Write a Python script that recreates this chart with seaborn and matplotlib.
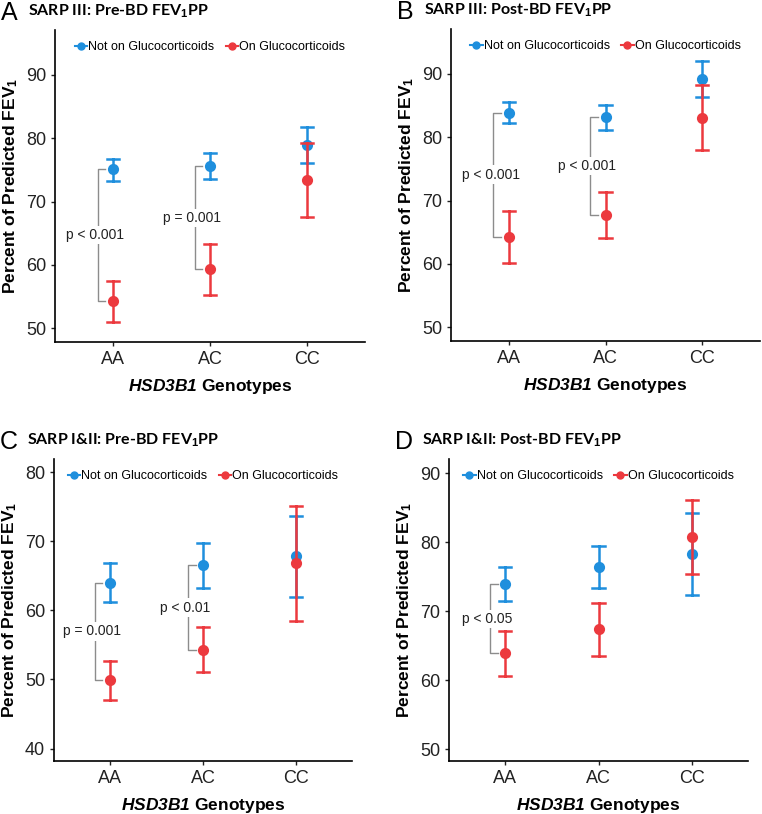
import pandas as pd
import numpy as np
import matplotlib
matplotlib.use('Agg')
import matplotlib.pyplot as plt
from matplotlib.lines import Line2D
import seaborn as sns

# genotype categories and groups
genotypes = ['AA', 'AC', 'CC']
groups = ['Not on Glucocorticoids', 'On Glucocorticoids']

# panel A: SARP III pre-BD
a_not_mid = [75.1, 75.6, 79.0]
a_not_lo = [73.3, 73.5, 76.1]
a_not_hi = [76.7, 77.6, 81.8]
a_on_mid = [54.3, 59.3, 73.4]
a_on_lo = [51.0, 55.3, 67.5]
a_on_hi = [57.4, 63.3, 79.3]

# panel B: SARP III post-BD
b_not_mid = [83.9, 83.2, 89.2]
b_not_lo = [82.2, 81.2, 86.3]
b_not_hi = [85.6, 85.1, 92.1]
b_on_mid = [64.3, 67.7, 83.1]
b_on_lo = [60.2, 64.1, 78.0]
b_on_hi = [68.3, 71.4, 88.2]

# panel C: SARP I&II pre-BD
c_not_mid = [64.0, 66.5, 67.8]
c_not_lo = [61.2, 63.3, 62.0]
c_not_hi = [66.8, 69.7, 73.6]
c_on_mid = [49.9, 54.3, 66.8]
c_on_lo = [47.0, 51.1, 58.4]
c_on_hi = [52.7, 57.6, 75.1]

# panel D: SARP I&II post-BD
d_not_mid = [74.0, 76.4, 78.3]
d_not_lo = [71.5, 73.4, 72.4]
d_not_hi = [76.5, 79.5, 84.2]
d_on_mid = [63.9, 67.5, 80.8]
d_on_lo = [60.6, 63.6, 75.4]
d_on_hi = [67.1, 71.2, 86.2]

# p-value brackets: (genotype index, label)
a_pvals = [(0, 'p < 0.001'), (1, 'p = 0.001')]
b_pvals = [(0, 'p < 0.001'), (1, 'p < 0.001')]
c_pvals = [(0, 'p = 0.001'), (1, 'p < 0.01')]
d_pvals = [(0, 'p < 0.05')]

blue = '#1f8fdd'
red = '#ec393e'

# mathtext: rm -> bold italic (gene name), bf -> bold (subscripts)
plt.rcParams['mathtext.fontset'] = 'custom'
plt.rcParams['mathtext.rm'] = 'Liberation Sans:italic:bold'
plt.rcParams['mathtext.it'] = 'Liberation Sans:italic:bold'
plt.rcParams['mathtext.bf'] = 'Liberation Sans:bold'
plt.rcParams['font.family'] = 'Liberation Sans'


def make_long(not_lo, not_mid, not_hi, on_lo, on_mid, on_hi):
    # three rows per point: median = centre, min/max = error bar ends
    rows = []
    for g, lo, mid, hi in [(groups[0], not_lo, not_mid, not_hi),
                           (groups[1], on_lo, on_mid, on_hi)]:
        for i, gt in enumerate(genotypes):
            for v in (lo[i], mid[i], hi[i]):
                rows.append({'Genotype': gt, 'Group': g, 'FEV1': v})
    return pd.DataFrame(rows)


panels = [
    ('A', 'SARP III: Pre-BD FEV$_\\mathbf{1}$PP', make_long(a_not_lo, a_not_mid, a_not_hi, a_on_lo, a_on_mid, a_on_hi),
     a_pvals, (a_not_mid, a_on_mid), [55, 342, 365, 30], (47.8, 97.1), [50, 60, 70, 80, 90]),
    ('B', 'SARP III: Post-BD FEV$_\\mathbf{1}$PP', make_long(b_not_lo, b_not_mid, b_not_hi, b_on_lo, b_on_mid, b_on_hi),
     b_pvals, (b_not_mid, b_on_mid), [451, 341, 760, 29], (47.8, 97.1), [50, 60, 70, 80, 90]),
    ('C', 'SARP I&II: Pre-BD FEV$_\\mathbf{1}$PP', make_long(c_not_lo, c_not_mid, c_not_hi, c_on_lo, c_on_mid, c_on_hi),
     c_pvals, (c_not_mid, c_on_mid), [54, 761, 352, 459], (38.2, 81.9), [40, 50, 60, 70, 80]),
    ('D', 'SARP I&II: Post-BD FEV$_\\mathbf{1}$PP', make_long(d_not_lo, d_not_mid, d_not_hi, d_on_lo, d_on_mid, d_on_hi),
     d_pvals, (d_not_mid, d_on_mid), [449, 761, 748, 459], (48.3, 92.1), [50, 60, 70, 80, 90]),
]

W, H = 762, 814
fig = plt.figure(figsize=(W / 100, H / 100), dpi=100)

for letter, title, df, pvals, mids, box, ylim, yticks in panels:
    left, bottom, right, top = box
    ax = fig.add_axes([left / W, 1 - bottom / H, (right - left) / W, (bottom - top) / H])
    sns.pointplot(data=df, x='Genotype', y='FEV1', hue='Group', order=genotypes,
                  hue_order=groups, palette=[blue, red], estimator='median',
                  errorbar=('pi', 100), dodge=False, linestyle='none',
                  markers='o', markersize=6, capsize=0.13,
                  err_kws={'linewidth': 1.8}, legend=False, ax=ax)
    ax.set_xlim(-0.6, 2.6)
    ax.set_ylim(*ylim)
    ax.set_yticks(yticks)
    for s in ['top', 'right']:
        ax.spines[s].set_visible(False)
    for s in ['left', 'bottom']:
        ax.spines[s].set_linewidth(1.2)
        ax.spines[s].set_color('black')
    ax.tick_params(axis='both', labelsize=13, colors='#222222', length=3, width=1)
    ax.set_xlabel('$\\mathrm{HSD3B1}$ Genotypes', fontsize=12.5, fontweight='bold', labelpad=6.5)
    ax.set_ylabel('Percent of Predicted FEV$_\\mathbf{1}$', fontsize=12.5, fontweight='bold', labelpad=4)

    # significance brackets
    for idx, label in pvals:
        top_v = mids[0][idx]
        bot_v = mids[1][idx]
        xv = idx - 0.16
        xt = idx - 0.08
        ax.plot([xt, xv, xv, xt], [top_v, top_v, bot_v, bot_v], color='#8c8c8c', lw=1, zorder=1)
        ax.text(xv - 0.03, (top_v + bot_v) / 2, label, ha='center', va='center', fontsize=10,
                color='#222222', bbox=dict(facecolor='white', edgecolor='none', pad=1.5), zorder=2)

    handles = [Line2D([], [], color=blue, marker='o', markersize=5, lw=1.5),
               Line2D([], [], color=red, marker='o', markersize=5, lw=1.5)]
    ax.legend(handles, groups, loc='upper center', bbox_to_anchor=(0.5, 1.0), ncol=2, frameon=False,
              fontsize=9, handlelength=1.0, handletextpad=0.1, columnspacing=0.9, borderaxespad=0.5)

    # panel letter and title
    fig.text((left - 54) / W, 1 - (top - 17) / H, letter, fontsize=18, va='center', ha='left')
    fig.text((left - 27) / W, 1 - (top - 19) / H, title, fontsize=11.5, fontweight='bold',
             va='center', ha='left', family='Lato')

fig.savefig('out.png', dpi=100)
